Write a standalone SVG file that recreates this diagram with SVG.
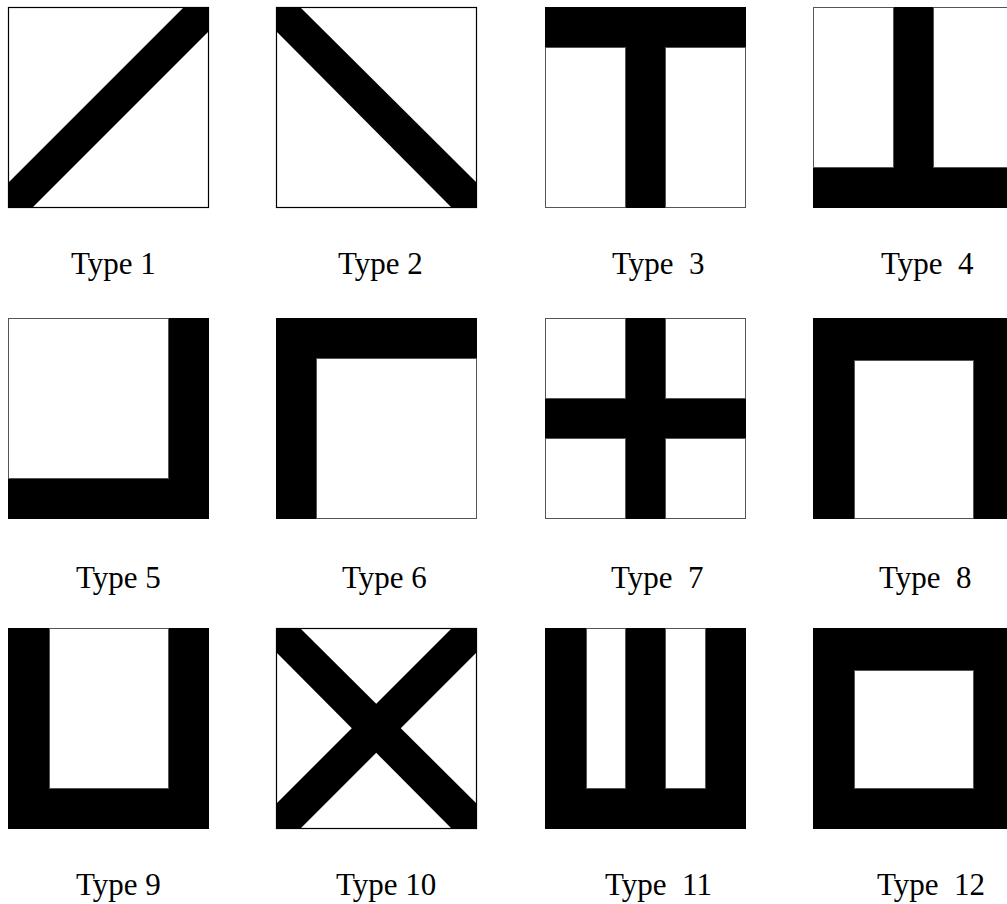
<svg xmlns="http://www.w3.org/2000/svg" width="1007" height="904" viewBox="0 0 1007 904">
<style>
.bg{fill:#fff;stroke:#000;stroke-width:1.2}
.k{fill:#000}
.w{fill:#fff;stroke:#555;stroke-width:1}
text{font-family:"Liberation Serif","Times New Roman",serif;font-size:31px;fill:#000;white-space:pre}
</style>
<rect width="1007" height="904" fill="#fff"/>
<g id="type1">
<rect class="bg" x="8.5" y="7.5" width="200" height="200"/>
<polygon class="k" points="8,183 8,208 32,208 209,31 209,7 184,7"/>
</g>
<g id="type2">
<rect class="bg" x="276.5" y="7.5" width="200" height="200"/>
<polygon class="k" points="276,7 300,7 477,183 477,208 452,208 276,31"/>
</g>
<g id="type3">
<rect class="k" x="545" y="7" width="201" height="201"/>
<rect class="w" x="545.5" y="47.5" width="80" height="160"/>
<rect class="w" x="665.5" y="47.5" width="80" height="160"/>
</g>
<g id="type4">
<rect class="k" x="813" y="7" width="201" height="201"/>
<rect class="w" x="813.5" y="7.5" width="80" height="160"/>
<rect class="w" x="933.5" y="7.5" width="80" height="160"/>
</g>
<g id="type5">
<rect class="k" x="8" y="318" width="201" height="201"/>
<rect class="w" x="8.5" y="318.5" width="160" height="160"/>
</g>
<g id="type6">
<rect class="k" x="276" y="318" width="201" height="201"/>
<rect class="w" x="316.5" y="358.5" width="160" height="160"/>
</g>
<g id="type7">
<rect class="k" x="545" y="318" width="201" height="201"/>
<rect class="w" x="545.5" y="318.5" width="80" height="80"/>
<rect class="w" x="665.5" y="318.5" width="80" height="80"/>
<rect class="w" x="545.5" y="438.5" width="80" height="80"/>
<rect class="w" x="665.5" y="438.5" width="80" height="80"/>
</g>
<g id="type8">
<rect class="k" x="813" y="318" width="201" height="201"/>
<rect class="w" x="854.5" y="360.5" width="119" height="158"/>
</g>
<g id="type9">
<rect class="k" x="8" y="628" width="201" height="201"/>
<rect class="w" x="49.5" y="628.5" width="119" height="160"/>
</g>
<g id="type10">
<rect class="bg" x="276.5" y="628.5" width="200" height="200"/>
<polygon class="k" points="276,628 300,628 477,804 477,829 452,829 276,652"/>
<polygon class="k" points="276,804 276,829 300,829 477,652 477,628 452,628"/>
</g>
<g id="type11">
<rect class="k" x="545" y="628" width="201" height="201"/>
<rect class="w" x="586.5" y="628.5" width="39" height="160"/>
<rect class="w" x="665.5" y="628.5" width="40" height="160"/>
</g>
<g id="type12">
<rect class="k" x="813" y="628" width="201" height="201"/>
<rect class="w" x="854.5" y="670.5" width="119" height="118"/>
</g>
<g id="labels">
<text x="71" y="274">Type 1</text>
<text x="338" y="274">Type 2</text>
<text x="612" y="274">Type  3</text>
<text x="881" y="274">Type  4</text>
<text x="76" y="588">Type 5</text>
<text x="342" y="588">Type 6</text>
<text x="611" y="588">Type  7</text>
<text x="879" y="588">Type  8</text>
<text x="76" y="895">Type 9</text>
<text x="336" y="895">Type 10</text>
<text x="605" y="895">Type  11</text>
<text x="877" y="895">Type  12</text>
</g>
</svg>
